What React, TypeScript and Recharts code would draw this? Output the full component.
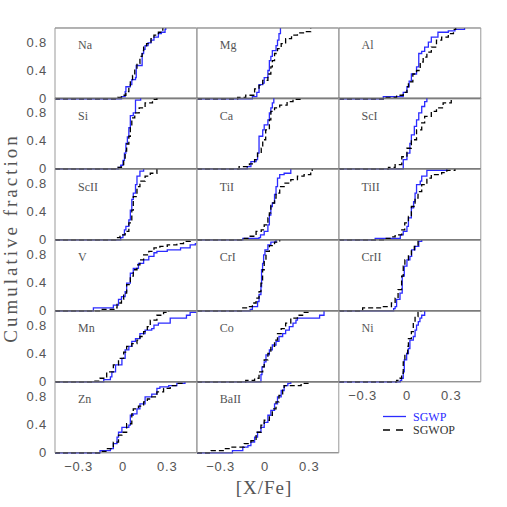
import React from 'react';
import { LineChart, Line, XAxis, YAxis } from 'recharts';

type Pt = [number, number];

// SGWP (solid blue) and SGWOP (dashed black) cumulative curves: [X/Fe], fraction
const NA_P: Pt[] = [[-0.46,0],[-0.01,0.03],[0.015,0.1],[0.02,0.17],[0.05,0.2],[0.06,0.27],[0.085,0.3],[0.09,0.47],[0.13,0.5],[0.13,0.64],[0.14,0.7],[0.15,0.75],[0.17,0.79],[0.19,0.83],[0.21,0.87],[0.24,0.92],[0.26,0.94],[0.285,0.98],[0.29,1.0]];
const NA_O: Pt[] = [[-0.46,0],[-0.035,0.02],[-0.01,0.05],[0.02,0.1],[0.04,0.17],[0.05,0.25],[0.065,0.33],[0.08,0.42],[0.095,0.5],[0.115,0.6],[0.13,0.68],[0.14,0.73],[0.16,0.78],[0.19,0.85],[0.21,0.9],[0.24,0.94],[0.27,1.0]];
const MG_P: Pt[] = [[-0.46,0],[-0.085,0.03],[-0.055,0.09],[-0.04,0.2],[-0.015,0.22],[-0.005,0.3],[0.02,0.4],[0.03,0.54],[0.04,0.6],[0.05,0.68],[0.075,0.75],[0.085,0.83],[0.095,0.92],[0.105,1.0]];
const MG_O: Pt[] = [[-0.46,0],[-0.185,0.02],[-0.13,0.05],[-0.07,0.14],[-0.04,0.19],[-0.015,0.26],[0.02,0.35],[0.04,0.45],[0.05,0.54],[0.065,0.64],[0.085,0.71],[0.11,0.78],[0.14,0.85],[0.18,0.9],[0.22,0.93],[0.27,0.95],[0.31,1.0]];
const AL_P: Pt[] = [[-0.46,0],[-0.16,0.03],[-0.025,0.09],[0,0.17],[0.015,0.25],[0.03,0.35],[0.065,0.45],[0.08,0.64],[0.1,0.67],[0.12,0.73],[0.145,0.8],[0.165,0.87],[0.21,0.94],[0.28,0.96],[0.325,0.98],[0.39,1.0]];
const AL_O: Pt[] = [[-0.46,0],[-0.16,0.02],[-0.07,0.05],[-0.025,0.09],[0,0.17],[0.01,0.24],[0.04,0.35],[0.065,0.4],[0.09,0.52],[0.11,0.59],[0.135,0.66],[0.165,0.73],[0.2,0.83],[0.235,0.87],[0.28,0.92],[0.315,0.98],[0.33,1.0]];
const SI_P: Pt[] = [[-0.46,0],[-0.03,0.02],[-0.015,0.05],[0,0.12],[0.01,0.22],[0.02,0.36],[0.03,0.45],[0.04,0.58],[0.05,0.75],[0.07,0.79],[0.085,0.97],[0.12,1.0]];
const SI_O: Pt[] = [[-0.46,0],[-0.035,0.02],[-0.01,0.06],[0.005,0.15],[0.015,0.25],[0.025,0.35],[0.04,0.46],[0.05,0.6],[0.06,0.72],[0.08,0.79],[0.11,0.86],[0.15,0.93],[0.2,0.98],[0.23,1.0]];
const CA_P: Pt[] = [[-0.46,0],[-0.12,0.03],[-0.095,0.1],[-0.06,0.13],[-0.05,0.22],[-0.04,0.46],[-0.015,0.55],[-0.005,0.62],[0.02,0.69],[0.03,0.79],[0.04,0.86],[0.05,0.93],[0.06,1.0]];
const CA_O: Pt[] = [[-0.46,0],[-0.175,0.03],[-0.105,0.07],[-0.07,0.13],[-0.05,0.22],[-0.025,0.29],[-0.015,0.41],[0.005,0.55],[0.03,0.69],[0.04,0.81],[0.065,0.86],[0.1,0.9],[0.15,0.95],[0.19,0.98],[0.245,1.0]];
const SCI_P: Pt[] = [[-0.46,0],[-0.025,0.13],[0,0.22],[0.02,0.36],[0.03,0.48],[0.05,0.6],[0.065,0.69],[0.08,0.79],[0.1,0.88],[0.12,0.95],[0.135,1.0]];
const SCI_O: Pt[] = [[-0.46,0],[-0.125,0.02],[-0.08,0.06],[-0.035,0.17],[0,0.29],[0.03,0.41],[0.065,0.55],[0.1,0.65],[0.12,0.74],[0.165,0.81],[0.2,0.86],[0.245,0.93],[0.3,1.0]];
const SCII_P: Pt[] = [[-0.46,0],[-0.015,0.03],[0,0.07],[0.01,0.14],[0.02,0.19],[0.04,0.28],[0.05,0.42],[0.06,0.57],[0.07,0.66],[0.085,0.78],[0.095,0.9],[0.115,0.97],[0.14,1.0]];
const SCII_O: Pt[] = [[-0.46,0],[-0.05,0.03],[-0.02,0.07],[0.015,0.12],[0.04,0.24],[0.06,0.42],[0.07,0.61],[0.095,0.75],[0.115,0.83],[0.15,0.9],[0.185,0.94],[0.23,1.0]];
const TII_P: Pt[] = [[-0.46,0],[-0.15,0.02],[-0.04,0.03],[-0.03,0.07],[-0.005,0.12],[0.02,0.21],[0.03,0.35],[0.04,0.47],[0.05,0.52],[0.065,0.64],[0.075,0.75],[0.085,0.87],[0.1,0.92],[0.13,0.94],[0.175,1.0]];
const TII_O: Pt[] = [[-0.46,0],[-0.15,0.02],[-0.1,0.05],[-0.06,0.12],[-0.025,0.14],[-0.005,0.21],[0.02,0.31],[0.03,0.38],[0.04,0.52],[0.065,0.59],[0.075,0.66],[0.1,0.75],[0.13,0.8],[0.175,0.85],[0.22,0.9],[0.265,0.92],[0.31,0.97],[0.32,1.0]];
const TIII_P: Pt[] = [[-0.46,0],[-0.215,0.02],[-0.045,0.07],[-0.025,0.12],[0,0.19],[0.01,0.31],[0.03,0.45],[0.045,0.54],[0.055,0.66],[0.065,0.78],[0.09,0.83],[0.1,0.9],[0.135,0.98],[0.27,1.0]];
const TIII_O: Pt[] = [[-0.46,0],[-0.15,0.02],[-0.115,0.04],[-0.08,0.07],[-0.035,0.14],[-0.015,0.24],[0.01,0.33],[0.03,0.47],[0.055,0.59],[0.075,0.68],[0.1,0.78],[0.135,0.87],[0.165,0.92],[0.235,0.95],[0.27,0.98],[0.325,1.0]];
const V_P: Pt[] = [[-0.46,0],[-0.2,0.04],[-0.065,0.08],[-0.03,0.16],[-0.01,0.2],[0.015,0.27],[0.025,0.39],[0.05,0.53],[0.07,0.6],[0.105,0.67],[0.14,0.72],[0.175,0.77],[0.21,0.82],[0.23,0.84],[0.3,0.86],[0.39,0.89],[0.455,0.93],[0.49,0.95],[0.5,0.95]];
const V_O: Pt[] = [[-0.46,0],[-0.15,0.02],[-0.05,0.04],[-0.04,0.11],[-0.01,0.16],[0.005,0.25],[0.025,0.37],[0.05,0.49],[0.07,0.58],[0.095,0.65],[0.115,0.72],[0.14,0.79],[0.175,0.84],[0.21,0.89],[0.25,0.91],[0.3,0.93],[0.365,0.95],[0.41,0.98],[0.455,1.0]];
const CRI_P: Pt[] = [[-0.46,0],[-0.1,0.02],[-0.085,0.06],[-0.05,0.13],[-0.04,0.23],[-0.027,0.34],[-0.023,0.58],[-0.016,0.67],[-0.009,0.79],[0,0.86],[0.02,0.93],[0.04,0.97],[0.075,1.0]];
const CRI_O: Pt[] = [[-0.46,0],[-0.15,0.04],[-0.105,0.06],[-0.085,0.11],[-0.06,0.18],[-0.04,0.27],[-0.027,0.39],[-0.016,0.58],[-0.005,0.72],[0.007,0.84],[0.03,0.92],[0.065,0.97],[0.1,1.0]];
const CRII_P: Pt[] = [[-0.46,0],[-0.09,0.03],[-0.08,0.06],[-0.07,0.16],[-0.047,0.25],[-0.032,0.49],[-0.018,0.63],[0,0.72],[0.02,0.77],[0.032,0.86],[0.055,0.91],[0.08,0.98],[0.1,1.0]];
const CRII_O: Pt[] = [[-0.46,0],[-0.3,0.04],[-0.17,0.06],[-0.105,0.11],[-0.08,0.18],[-0.06,0.3],[-0.036,0.49],[-0.025,0.63],[-0.014,0.72],[0.01,0.79],[0.03,0.86],[0.05,0.91],[0.075,0.98],[0.08,1.0]];
const MN_P: Pt[] = [[-0.46,0],[-0.13,0.03],[-0.085,0.07],[-0.075,0.14],[-0.05,0.24],[-0.007,0.33],[0.015,0.45],[0.04,0.5],[0.06,0.57],[0.085,0.61],[0.115,0.68],[0.15,0.73],[0.195,0.75],[0.21,0.8],[0.24,0.83],[0.32,0.9],[0.43,0.94],[0.455,0.98],[0.5,0.98]];
const MN_O: Pt[] = [[-0.46,0],[-0.2,0.01],[-0.155,0.05],[-0.11,0.14],[-0.065,0.24],[-0.03,0.33],[0.005,0.42],[0.025,0.5],[0.06,0.54],[0.095,0.59],[0.115,0.64],[0.14,0.71],[0.165,0.78],[0.185,0.87],[0.23,0.94],[0.275,0.98],[0.31,1.0]];
const CO_P: Pt[] = [[-0.46,0],[-0.027,0.1],[-0.02,0.21],[-0.005,0.28],[0.007,0.38],[0.03,0.45],[0.05,0.52],[0.075,0.57],[0.095,0.64],[0.12,0.68],[0.14,0.73],[0.165,0.78],[0.19,0.83],[0.21,0.87],[0.22,0.9],[0.37,0.94],[0.4,1.0]];
const CO_O: Pt[] = [[-0.46,0],[-0.13,0.02],[-0.07,0.05],[-0.04,0.14],[-0.015,0.21],[-0.005,0.31],[0.02,0.4],[0.04,0.5],[0.065,0.59],[0.085,0.68],[0.11,0.75],[0.14,0.83],[0.175,0.9],[0.22,0.94],[0.255,0.98],[0.3,1.0]];
const NI_P: Pt[] = [[-0.46,0],[-0.045,0.02],[-0.036,0.05],[-0.025,0.14],[-0.018,0.31],[-0.002,0.4],[0.01,0.47],[0.02,0.59],[0.043,0.64],[0.055,0.73],[0.065,0.8],[0.077,0.85],[0.088,0.9],[0.1,0.94],[0.12,1.0]];
const NI_O: Pt[] = [[-0.46,0],[-0.07,0.02],[-0.047,0.05],[-0.036,0.12],[-0.025,0.28],[-0.014,0.4],[0.005,0.5],[0.01,0.61],[0.03,0.71],[0.043,0.83],[0.055,0.92],[0.075,0.98],[0.095,1.0]];
const ZN_P: Pt[] = [[-0.46,0],[-0.155,0.03],[-0.085,0.06],[-0.065,0.13],[-0.04,0.22],[-0.03,0.29],[-0.007,0.36],[0.04,0.39],[0.05,0.53],[0.07,0.55],[0.095,0.62],[0.115,0.69],[0.15,0.79],[0.195,0.83],[0.23,0.91],[0.25,0.93],[0.31,0.95],[0.365,0.98],[0.42,1.0]];
const ZN_O: Pt[] = [[-0.46,0],[-0.14,0.02],[-0.11,0.06],[-0.065,0.15],[-0.03,0.25],[-0.007,0.29],[0.025,0.41],[0.06,0.55],[0.07,0.62],[0.105,0.66],[0.14,0.72],[0.165,0.76],[0.195,0.79],[0.23,0.86],[0.275,0.91],[0.32,0.95],[0.365,0.98],[0.41,1.0]];
const BAII_P: Pt[] = [[-0.46,0],[-0.22,0.03],[-0.15,0.08],[-0.115,0.1],[-0.095,0.15],[-0.07,0.22],[-0.05,0.29],[-0.027,0.36],[-0.005,0.43],[0.02,0.53],[0.04,0.6],[0.065,0.69],[0.085,0.79],[0.11,0.88],[0.13,0.95],[0.155,0.98],[0.175,1.0]];
const BAII_O: Pt[] = [[-0.46,0],[-0.365,0.03],[-0.275,0.06],[-0.23,0.08],[-0.14,0.13],[-0.095,0.17],[-0.06,0.29],[-0.027,0.39],[-0.005,0.46],[0.03,0.53],[0.05,0.62],[0.075,0.72],[0.095,0.81],[0.12,0.91],[0.13,0.95],[0.245,0.98],[0.3,1.0]];

const XDOM: [number, number] = [-0.46, 0.5];
const YDOM: [number, number] = [0, 1];
const XTICKS = [-0.3, -0.15, 0, 0.15, 0.3, 0.45];
const YTICKS = [0.2, 0.4, 0.6, 0.8];
const XLABELS = [-0.3, 0, 0.3];
const YLABELS = [0, 0.4, 0.8];
const SERIES = ['SGWP', 'SGWOP'];

type Spec = { name: string; col: number; row: number; p: Pt[]; o: Pt[]; xl?: boolean };
const PANELS: Spec[] = [
  { name: 'Na', col: 0, row: 0, p: NA_P, o: NA_O },
  { name: 'Mg', col: 1, row: 0, p: MG_P, o: MG_O },
  { name: 'Al', col: 2, row: 0, p: AL_P, o: AL_O },
  { name: 'Si', col: 0, row: 1, p: SI_P, o: SI_O },
  { name: 'Ca', col: 1, row: 1, p: CA_P, o: CA_O },
  { name: 'ScI', col: 2, row: 1, p: SCI_P, o: SCI_O },
  { name: 'ScII', col: 0, row: 2, p: SCII_P, o: SCII_O },
  { name: 'TiI', col: 1, row: 2, p: TII_P, o: TII_O },
  { name: 'TiII', col: 2, row: 2, p: TIII_P, o: TIII_O },
  { name: 'V', col: 0, row: 3, p: V_P, o: V_O },
  { name: 'CrI', col: 1, row: 3, p: CRI_P, o: CRI_O },
  { name: 'CrII', col: 2, row: 3, p: CRII_P, o: CRII_O },
  { name: 'Mn', col: 0, row: 4, p: MN_P, o: MN_O },
  { name: 'Co', col: 1, row: 4, p: CO_P, o: CO_O },
  { name: 'Ni', col: 2, row: 4, p: NI_P, o: NI_O, xl: true },
  { name: 'Zn', col: 0, row: 5, p: ZN_P, o: ZN_O, xl: true },
  { name: 'BaII', col: 1, row: 5, p: BAII_P, o: BAII_O, xl: true },
];

const X0 = 55;
const Y0 = 27.5;
const W = 141.8;
const H = 70.8;
const PADH = 3;
const PADV = 9;
const BLUE = '#2b2bff';
const HLINE = '#666';
const VLINE = '#999';
const TICK = '#999';
const NUMFONT = 'Liberation Sans, Arial, sans-serif';
const SERIF = 'Liberation Serif, Times New Roman, serif';

const fmt = (v: number) => (v < 0 ? '\u2212' + Math.abs(v) : String(v));

function Panel({ s }: { s: Spec }) {
  const yl = s.col === 0;
  const padL = yl ? 45 : 0;
  const padB = s.xl ? 28 : 0;
  const cw = W + padL + 2 * PADH;
  const ch = H + padB + 2 * PADV;
  const left = X0 + s.col * W - padL - PADH;
  const top = Y0 + s.row * H - PADV;
  const pData = s.p.map(([x, y]) => ({ x, y }));
  const oData = s.o.map(([x, y]) => ({ x, y }));
  const tickStyle = { fill: '#555', fontSize: 13, fontFamily: NUMFONT, letterSpacing: 0.8 };
  return (
    <div style={{ position: 'absolute', left, top, width: cw, height: ch }}>
      <LineChart width={cw} height={ch} margin={{ top: PADV, right: PADH, bottom: PADV, left: PADH }}>
        <XAxis xAxisId="b" type="number" dataKey="x" domain={XDOM} orientation="bottom" mirror
          ticks={XTICKS} interval={0} tick={false} tickSize={5}
          axisLine={{ stroke: HLINE, strokeWidth: 1 }} tickLine={{ stroke: TICK }} />
        <XAxis xAxisId="t" type="number" dataKey="x" domain={XDOM} allowDataOverflow orientation="top" mirror
          ticks={XTICKS} interval={0} tick={false} tickSize={5}
          axisLine={{ stroke: HLINE, strokeWidth: 1 }} tickLine={{ stroke: TICK }} />
        {s.xl && (
          <XAxis xAxisId="lab" type="number" dataKey="x" domain={XDOM} allowDataOverflow orientation="bottom"
            height={28} ticks={XLABELS} interval={0} tickFormatter={fmt} axisLine={false} tickLine={false}
            tickSize={0} tickMargin={9} tick={tickStyle} />
        )}
        <YAxis yAxisId="l" type="number" dataKey="y" domain={YDOM} orientation="left" mirror
          ticks={YTICKS} interval={0} tick={false} tickSize={5}
          axisLine={{ stroke: VLINE, strokeWidth: 1 }} tickLine={{ stroke: TICK }} />
        <YAxis yAxisId="r" type="number" dataKey="y" domain={YDOM} allowDataOverflow orientation="right" mirror
          ticks={YTICKS} interval={0} tick={false} tickSize={5}
          axisLine={{ stroke: VLINE, strokeWidth: 1 }} tickLine={{ stroke: TICK }} />
        {yl && (
          <YAxis yAxisId="lab" type="number" dataKey="y" domain={YDOM} allowDataOverflow orientation="left"
            width={45} ticks={YLABELS} interval={0} tickFormatter={fmt} axisLine={false} tickLine={false}
            tickSize={0} tickMargin={8} tick={tickStyle} />
        )}
        <Line xAxisId="b" yAxisId="l" data={pData} dataKey="y" name={SERIES[0]} type="stepAfter"
          stroke={BLUE} strokeWidth={1.3} dot={false} activeDot={false} isAnimationActive={false} />
        <Line xAxisId="b" yAxisId="l" data={oData} dataKey="y" name={SERIES[1]} type="stepAfter"
          stroke="#000" strokeWidth={1.3} strokeDasharray="5 3" dot={false} activeDot={false} isAnimationActive={false} />
      </LineChart>
    </div>
  );
}

export default function App() {
  return (
    <div style={{ position: 'absolute', left: 0, top: 0, width: 507, height: 507, background: '#fff', overflow: 'hidden' }}>
      {PANELS.map((s) => (
        <Panel key={s.name} s={s} />
      ))}
      <svg width={507} height={507} style={{ position: 'absolute', left: 0, top: 0, pointerEvents: 'none' }}>
        {PANELS.map((s) => (
          <text key={s.name} x={X0 + s.col * W + 23} y={Y0 + s.row * H + 21.5}
            fontFamily={SERIF} fontSize={12} fill="#555">{s.name}</text>
        ))}
        <text x={0} y={0} transform="translate(17,238) rotate(-90)" textAnchor="middle"
          fontFamily={SERIF} fontSize={19} letterSpacing={3} fill="#555">Cumulative fraction</text>
        <text x={264} y={494} textAnchor="middle" fontFamily={SERIF} fontSize={19} letterSpacing={1} fill="#555">[X/Fe]</text>
        <line x1={383} y1={416.5} x2={406} y2={416.5} stroke={BLUE} strokeWidth={1.3} />
        <text x={413} y={420.5} fontFamily={SERIF} fontSize={12} fill={BLUE}>{SERIES[0]}</text>
        <line x1={383} y1={430} x2={406} y2={430} stroke="#000" strokeWidth={1.3} strokeDasharray="7 6" />
        <text x={413} y={434} fontFamily={SERIF} fontSize={12} fill="#333">{SERIES[1]}</text>
      </svg>
    </div>
  );
}
